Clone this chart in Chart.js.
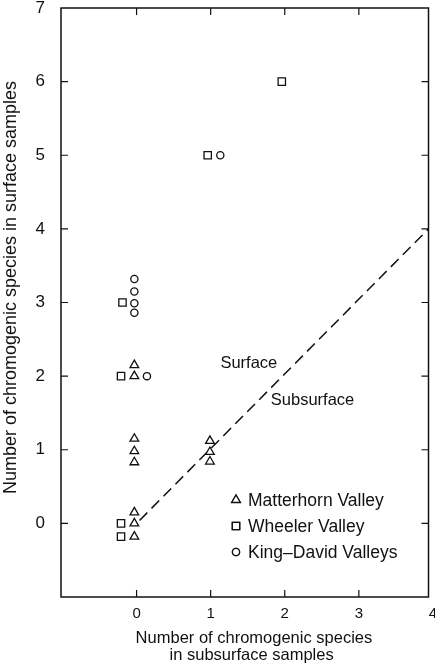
<!DOCTYPE html>
<html>
<head>
<meta charset="utf-8">
<script src="https://cdn.jsdelivr.net/npm/chart.js@4"></script>
<style>
  html, body { margin: 0; padding: 0; background: #fff; }
  #wrap { width: 435px; height: 667px; }
</style>
</head>
<body>
<div id="wrap"><canvas id="chart" width="435" height="667"></canvas></div>
<script>
// ---------- Data (small offsets keep symbols apart) ----------
const matterhornX = [-0.03, -0.03, -0.03, -0.03, -0.03, -0.03, -0.03, -0.03, 0.99, 0.99, 0.99];
const matterhornY = [2.15, 2.0, 1.15, 0.98, 0.83, 0.15, 0.0, -0.18, 1.12, 0.97, 0.84];
const wheelerX = [-0.19, -0.21, -0.21, -0.21, 0.96, 1.96];
const wheelerY = [3.0, 2.0, 0.0, -0.18, 5.0, 6.0];
const kingDavidX = [-0.03, -0.03, -0.03, -0.03, 0.14, 1.13];
const kingDavidY = [3.32, 3.15, 2.99, 2.86, 2.0, 5.0];
const lineX = [0.04, 3.94];
const lineY = [0.04, 4];

const xTicks = [0, 1, 2, 3, 4];
const yTicks = [0, 1, 2, 3, 4, 5, 6, 7];
const legendNames = ["Matterhorn Valley", "Wheeler Valley", "King\u2013David Valleys"];
const regionLabels = [
  { text: "Surface", x: 1.515, y: 2.17 },
  { text: "Subsurface", x: 2.375, y: 1.67 },
];

const pts = (xs, ys) => xs.map((x, i) => ({ x, y: ys[i] }));
const INK = "#111";
const FONT = "'Liberation Sans', Arial, sans-serif";
const NB = "\u00a0";

// ---------- Plugins: white bg, frame with inward ticks, labels, legend ----------
const frame = {
  id: "frame",
  beforeDraw(chart) {
    const c = chart.ctx;
    c.save();
    c.fillStyle = "#fff";
    c.fillRect(0, 0, chart.width, chart.height);
    c.restore();
  },
  afterDraw(chart) {
    const { ctx: c, chartArea: a, scales } = chart;
    const xs = scales.x, ys = scales.y;
    c.save();
    c.strokeStyle = INK;
    c.lineWidth = 1.5;
    c.strokeRect(a.left, a.top, a.right - a.left, a.bottom - a.top);
    c.lineWidth = 1.2;
    const T = 7;
    c.beginPath();
    xTicks.forEach((v) => {
      if (v <= xs.min || v >= xs.max) return;
      const px = xs.getPixelForValue(v);
      c.moveTo(px, a.bottom); c.lineTo(px, a.bottom - T);
      c.moveTo(px, a.top); c.lineTo(px, a.top + T);
    });
    yTicks.forEach((v) => {
      if (v <= ys.min || v >= ys.max) return;
      const py = ys.getPixelForValue(v);
      c.moveTo(a.left, py); c.lineTo(a.left + T, py);
      c.moveTo(a.right, py); c.lineTo(a.right - T, py);
    });
    c.stroke();

    // region labels
    c.fillStyle = INK;
    c.font = "16.5px " + FONT;
    c.textAlign = "center";
    c.textBaseline = "middle";
    regionLabels.forEach((l) => {
      c.fillText(l.text, xs.getPixelForValue(l.x), ys.getPixelForValue(l.y));
    });

    // legend (inside plot, lower right)
    const lx = 236, ly0 = 500, gap = 26;
    c.textAlign = "left";
    c.font = "17.5px " + FONT;
    chart.data.datasets.slice(0, 3).forEach((ds, i) => {
      const y = ly0 + i * gap;
      Chart.helpers.drawPoint(c, {
        pointStyle: ds.pointStyle,
        radius: ds.pointRadius,
        borderWidth: ds.borderWidth,
      }, lx, y);
      c.strokeStyle = INK;
      c.fillStyle = "#fff";
      c.lineWidth = ds.borderWidth;
      c.fill(); c.stroke();
      c.fillStyle = INK;
      c.fillText(legendNames[i], lx + 12, y + 1);
    });
    c.restore();
  },
};

const markerStyle = (style, r) => ({
  pointStyle: style,
  pointRadius: r,
  pointHoverRadius: r,
  borderColor: INK,
  backgroundColor: "#fff",
  borderWidth: 1.3,
  showLine: false,
});

new Chart(document.getElementById("chart"), {
  type: "scatter",
  data: {
    datasets: [
      { label: legendNames[0], data: pts(matterhornX, matterhornY), ...markerStyle("triangle", 5) },
      { label: legendNames[1], data: pts(wheelerX, wheelerY), ...markerStyle("rect", 5.2) },
      { label: legendNames[2], data: pts(kingDavidX, kingDavidY), ...markerStyle("circle", 3.6) },
      {
        label: "boundary",
        data: pts(lineX, lineY),
        showLine: true,
        borderColor: INK,
        borderWidth: 1.5,
        borderDash: [11, 6],
        pointRadius: 0,
        fill: false,
      },
    ],
  },
  options: {
    responsive: false,
    animation: false,
    layout: { padding: { top: 8, right: 5, left: 0, bottom: 0 } },
    plugins: { legend: { display: false }, tooltip: { enabled: false } },
    scales: {
      x: {
        type: "linear",
        min: -1.02,
        max: 3.94,
        afterBuildTicks: (s) => { s.ticks = xTicks.map((v) => ({ value: v })); },
        afterFit: (s) => { s.height = 70; s.paddingLeft = 0; s.paddingRight = 0; },
        grid: { display: false, drawTicks: false },
        border: { display: false },
        ticks: {
          color: INK,
          padding: 8,
          maxRotation: 0,
          autoSkip: false,
          font: { family: FONT, size: 15 },
        },
        title: {
          display: true,
          // leading spaces push the block slightly right of the axis centre
          text: [NB.repeat(4) + "Number of chromogenic species", NB.repeat(3) + "in subsurface samples"],
          color: INK,
          font: { family: FONT, size: 16.5, lineHeight: 1.03 },
          padding: { top: 0, bottom: 3.5 },
        },
      },
      y: {
        type: "linear",
        min: -1,
        max: 7,
        afterBuildTicks: (s) => { s.ticks = yTicks.map((v) => ({ value: v })); },
        afterFit: (s) => { s.width = 61; s.paddingTop = 0; s.paddingBottom = 0; },
        grid: { display: false, drawTicks: false },
        border: { display: false },
        ticks: {
          color: INK,
          padding: 16,
          autoSkip: false,
          font: { family: FONT, size: 17 },
        },
        title: {
          display: true,
          // leading spaces nudge the visible words upward, as in the original
          text: NB.repeat(6) + "Number of chromogenic species in surface samples",
          color: INK,
          font: { family: FONT, size: 18, lineHeight: 1.2 },
          padding: { top: 0, bottom: 0 },
        },
      },
    },
  },
  plugins: [frame],
});
</script>
</body>
</html>
